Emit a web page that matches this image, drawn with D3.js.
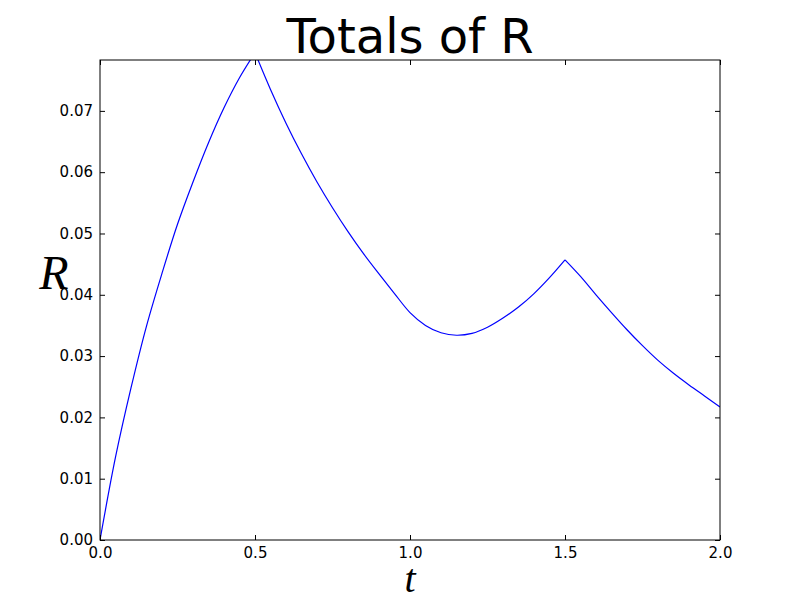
<!DOCTYPE html>
<html>
<head>
<meta charset="utf-8">
<script src="https://cdn.jsdelivr.net/npm/d3@7"></script>
<style>
  body { margin: 0; background: #fff; }
  svg { display: block; }
</style>
</head>
<body>
<script>
// Time points and totals of R.
const tValues = [
  0.00, 0.05, 0.10, 0.15, 0.20, 0.25, 0.30, 0.35, 0.40, 0.45,
  0.50, 0.55, 0.60, 0.65, 0.70, 0.75, 0.80, 0.85, 0.90, 0.95,
  1.00, 1.05, 1.10, 1.15, 1.20, 1.25, 1.30, 1.35, 1.40, 1.45,
  1.50, 1.55, 1.60, 1.65, 1.70, 1.75, 1.80, 1.85, 1.90, 1.95, 2.00
];
const rValues = [
  0.0000, 0.0135, 0.0248, 0.0349, 0.0435, 0.0515, 0.0584, 0.0648, 0.0705, 0.0754,
  0.0795, 0.0735, 0.0680, 0.0630, 0.0584, 0.0542, 0.0503, 0.0467, 0.0434, 0.0402,
  0.0371, 0.0350, 0.0338, 0.0334, 0.0337, 0.0347, 0.0362, 0.0380, 0.0402, 0.0428,
  0.0457, 0.0430, 0.0400, 0.0371, 0.0343, 0.0317, 0.0293, 0.0272, 0.0253, 0.0235, 0.0217
];
// The curve has corners at these times (inputs switch on/off).
const cornerTimes = [0.5, 1.5];
const xTicks = [0.0, 0.5, 1.0, 1.5, 2.0];
const yTicks = [0.00, 0.01, 0.02, 0.03, 0.04, 0.05, 0.06, 0.07];
const yMax = 0.0783;

const width = 800, height = 600;
const margin = {top: 60, right: 80, bottom: 60, left: 100};
const innerW = width - margin.left - margin.right;
const innerH = height - margin.top - margin.bottom;

const svg = d3.select("body").append("svg")
  .attr("width", width)
  .attr("height", height);

const g = svg.append("g")
  .attr("transform", "translate(" + margin.left + "," + margin.top + ")");

const x = d3.scaleLinear().domain([0, 2]).range([0, innerW]);
const y = d3.scaleLinear().domain([0, yMax]).range([innerH, 0]);

svg.append("clipPath")
  .attr("id", "plot-clip")
  .append("rect")
  .attr("width", innerW)
  .attr("height", innerH);

// Split the series at the corners so each piece can be smoothed on its own.
const points = tValues.map((t, i) => ({t: t, r: rValues[i]}));
const pieces = [];
let current = [];
points.forEach(p => {
  current.push(p);
  if (cornerTimes.includes(p.t)) {
    pieces.push(current);
    current = [p];
  }
});
pieces.push(current);

const line = d3.line()
  .x(d => x(d.t))
  .y(d => y(d.r))
  .curve(d3.curveCatmullRom.alpha(0.5));

g.append("g")
  .attr("clip-path", "url(#plot-clip)")
  .selectAll("path")
  .data(pieces)
  .join("path")
  .attr("d", line)
  .style("fill", "none")
  .style("stroke", "#0000ff")
  .style("stroke-width", 1.2);

// Axes: ticks point inward on all four sides.
const fontFamily = "'DejaVu Sans', sans-serif";

function styleAxis(sel) {
  sel.select(".domain").remove();
  sel.selectAll(".tick line").style("stroke", "#000");
  sel.selectAll("text")
    .style("font-family", fontFamily)
    .style("font-size", "15px")
    .style("fill", "#000");
}

g.append("g")
  .attr("transform", "translate(0," + innerH + ")")
  .call(d3.axisBottom(x).tickValues(xTicks).tickFormat(d3.format(".1f"))
    .tickSize(-5).tickPadding(7))
  .call(styleAxis);

g.append("g")
  .call(d3.axisTop(x).tickValues(xTicks).tickFormat("").tickSize(-5))
  .call(styleAxis);

g.append("g")
  .call(d3.axisLeft(y).tickValues(yTicks).tickFormat(d3.format(".2f"))
    .tickSize(-5).tickPadding(7))
  .call(styleAxis);

g.append("g")
  .attr("transform", "translate(" + innerW + ",0)")
  .call(d3.axisRight(y).tickValues(yTicks).tickFormat("").tickSize(-5))
  .call(styleAxis);

// Frame round the plot area.
g.append("rect")
  .attr("width", innerW)
  .attr("height", innerH)
  .style("fill", "none")
  .style("stroke", "#000")
  .style("stroke-width", 1);

// Title and axis labels.
svg.append("text")
  .attr("x", margin.left + innerW / 2)
  .attr("y", 53)
  .attr("text-anchor", "middle")
  .style("font-family", fontFamily)
  .style("font-size", "48px")
  .text("Totals of R");

svg.append("text")
  .attr("x", margin.left + innerW / 2)
  .attr("y", 592)
  .attr("text-anchor", "middle")
  .style("font-family", "'Liberation Serif', serif")
  .style("font-style", "italic")
  .style("font-size", "40px")
  .text("t");

svg.append("text")
  .attr("x", 54)
  .attr("y", 289)
  .attr("text-anchor", "middle")
  .style("font-family", "'Liberation Serif', serif")
  .style("font-style", "italic")
  .style("font-size", "48px")
  .text("R");
</script>
</body>
</html>
